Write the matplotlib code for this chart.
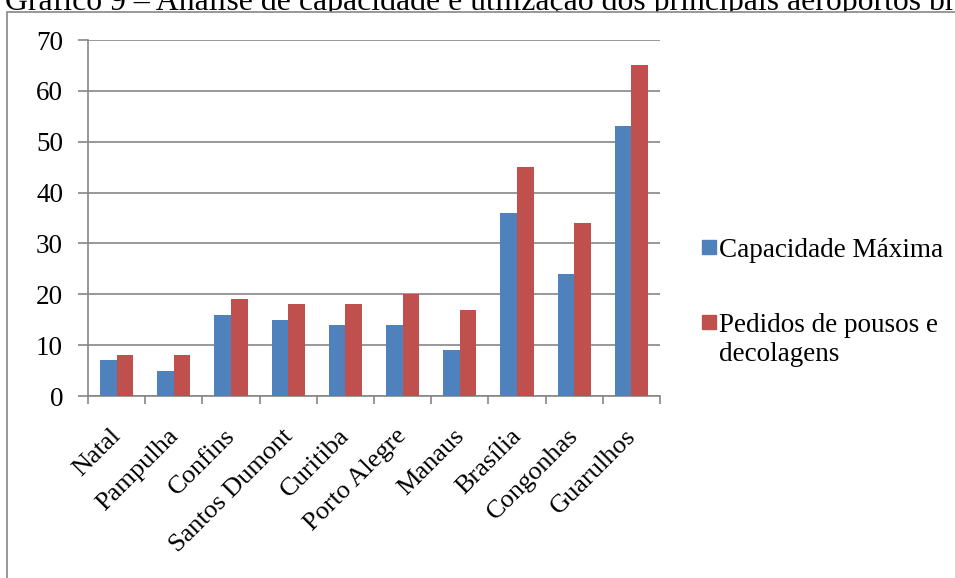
import matplotlib.pyplot as plt
import matplotlib.transforms as mtransforms
import numpy as np
from matplotlib.patches import Rectangle

aeroportos = ['Natal', 'Pampulha', 'Confins', 'Santos Dumont', 'Curitiba',
              'Porto Alegre', 'Manaus', 'Brasília', 'Congonhas', 'Guarulhos']
capacidade = [7, 5, 16, 15, 14, 14, 9, 36, 24, 53]
pedidos = [8, 8, 19, 18, 18, 20, 17, 45, 34, 65]
series = ['Capacidade Máxima', 'Pedidos de pousos e\ndecolagens']
cores = ['#4F81BD', '#C0504D']
titulo = 'Gráfico 9 – Análise de capacidade e utilização dos principais aeroportos brasileiros'

plt.rcParams['font.family'] = ['Liberation Serif', 'DejaVu Serif']
fs = 19.5

fig = plt.figure(figsize=(9.55, 5.78), dpi=100)
W, H = 955, 578
ax = fig.add_axes([88 / W, 1 - 396 / H, 572 / W, 356 / H])
ax.set_zorder(2)

# título (parcialmente coberto pela moldura, como no original)
r = fig.canvas.get_renderer()
t = fig.text(0, 0, 'Gráfico 9 – Análise de capacidade e utilização dos principais aeroportos br',
             fontsize=20)
larg = t.get_window_extent(r).width
t.remove()
fst = 20 * 950 / larg
fig.text(5 / W, 1 - 10 / H, titulo, fontsize=fst, va='baseline', ha='left', zorder=0)

# moldura do gráfico
fig.patches.append(Rectangle((7 / W, -0.1), 1.2, 1 - 12 / H + 0.1,
                             transform=fig.transFigure, facecolor='white',
                             edgecolor='#868686', lw=1.2, zorder=1))

x = np.arange(len(aeroportos))
w = 0.29
ax.bar(x - w / 2, capacidade, w, color=cores[0], zorder=3)
ax.bar(x + w / 2, pedidos, w, color=cores[1], zorder=3)

ax.set_xlim(-0.5, len(aeroportos) - 0.5)
ax.set_ylim(0, 70)
ax.set_yticks(range(0, 71, 10))
ax.yaxis.grid(True, color='#868686', lw=1.2, zorder=0)
ax.set_xticks(np.arange(-0.5, len(aeroportos), 1))
ax.set_xticklabels([])
ax.set_xticks(x, minor=True)
ax.set_xticklabels(aeroportos, minor=True, rotation=45, ha='right',
                   rotation_mode='anchor', fontsize=19)
ax.tick_params(axis='x', which='minor', length=0, pad=18)
ax.tick_params(axis='x', which='major', length=6, color='#868686', width=1.2)
ax.tick_params(axis='y', length=7, color='#868686', width=1.2, labelsize=fs, pad=11)

desloc = mtransforms.ScaledTranslation(-0.07, -0.04, fig.dpi_scale_trans)
for lab in ax.get_xticklabels(minor=True):
    lab.set_transform(lab.get_transform() + desloc)

for s in ['top', 'right']:
    ax.spines[s].set_visible(False)
for s in ['left', 'bottom']:
    ax.spines[s].set_color('#868686')
    ax.spines[s].set_linewidth(1.2)

# legenda
for i, (nome, cor) in enumerate(zip(series, cores)):
    y0 = 247 + i * 75
    fig.patches.append(Rectangle((702 / W, 1 - (y0 + 7) / H), 14 / W, 14 / H,
                                 transform=fig.transFigure, color=cor, zorder=3))
    fig.text(719 / W, 1 - (y0 - 9) / H, nome, fontsize=fs, va='top', ha='left',
             linespacing=1.2, zorder=3)

fig.savefig('out.png', dpi=100)
